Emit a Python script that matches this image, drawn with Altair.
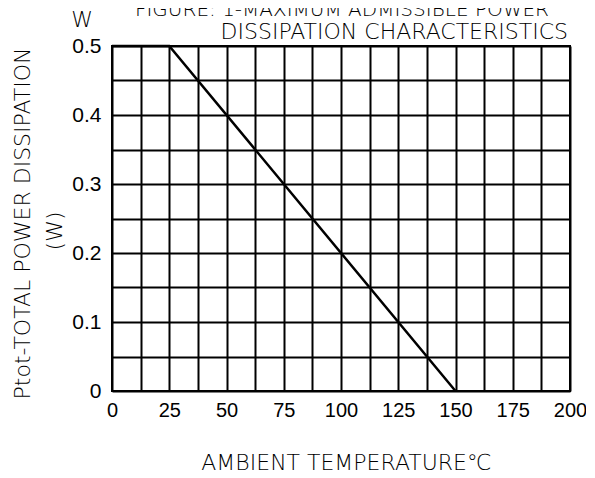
import altair as alt
import pandas as pd

temp = [0, 25, 150]
power = [0.5, 0.5, 0.0]
x_grid = [0, 12.5, 25, 37.5, 50, 62.5, 75, 87.5, 100, 112.5, 125, 137.5, 150, 162.5, 175, 187.5, 200]
y_grid = [0, 0.05, 0.1, 0.15, 0.2, 0.25, 0.3, 0.35, 0.4, 0.45, 0.5]
title_lines = ["FIGURE: 1-MAXIMUM ADMISSIBLE POWER", "DISSIPATION CHARACTERISTICS"]
y_title = "Ptot-TOTAL POWER DISSIPATION"
y_unit = "(W)"
unit_top = "W"
x_title = "AMBIENT TEMPERATURE\u2103"

df = pd.DataFrame({"temp": temp, "power": power})

LABEL_FONT = "Liberation Sans"
TITLE_FONT = "DejaVu Sans"
TW = 200
TS = 22

line = alt.Chart(df).mark_line(color="black", strokeWidth=2.5).encode(
    x=alt.X("temp:Q", scale=alt.Scale(domain=[0, 200], nice=False),
            axis=alt.Axis(values=x_grid, grid=True, gridColor="black", gridWidth=2, gridOpacity=1,
                          ticks=False, domain=False,
                          labelExpr="datum.value % 25 == 0 ? datum.label : ''",
                          format="~f", labelFont=LABEL_FONT, labelFontSize=20, labelColor="black",
                          labelPadding=9, labelFlush=False, labelOverlap=False,
                          title=x_title, titleFont=TITLE_FONT, titleFontSize=TS,
                          titleFontWeight=TW, titleColor="black", titleX=234, titleY=71,
                          titleAnchor="start", titleAlign="center", titleBaseline="middle")),
    y=alt.Y("power:Q", scale=alt.Scale(domain=[0, 0.5], nice=False),
            axis=alt.Axis(values=y_grid, grid=True, gridColor="black", gridWidth=2, gridOpacity=1,
                          ticks=False, domain=False,
                          labelExpr="round(datum.value * 100) % 10 == 0 ? datum.label : ''",
                          format=".2~f", labelFont=LABEL_FONT, labelFontSize=21, labelColor="black",
                          labelPadding=11, labelFlush=False, labelOverlap=False,
                          title=y_title, titleFont=TITLE_FONT,
                          titleFontSize=TS, titleFontWeight=TW, titleColor="black",
                          titleAngle=270, titleX=-90, titleY=177, titleAlign="center",
                          titleBaseline="middle", titleAnchor="start")),
)

def txt(s, x, y, align="center", angle=0, size=TS):
    kw = dict(align=align, baseline="middle", font=TITLE_FONT, fontSize=size,
              fontWeight=TW, color="black")
    if angle:
        kw["angle"] = angle
    return alt.Chart(pd.DataFrame({"t": [s]})).mark_text(**kw).encode(
        text="t:N", x=alt.value(x), y=alt.value(y))

t1 = txt(title_lines[0], 437, -36, align="right", size=20)
t2 = txt(title_lines[1], 456, -14, align="right")
tw = txt(unit_top, -30, -26)
tu = txt(y_unit, -57, 185, angle=270)

chart = alt.layer(line, t1, t2, tw, tu).properties(
    width=458, height=345,
    autosize=alt.AutoSizeParams(type="none"),
    padding={"left": 104, "top": 38, "right": 16, "bottom": 88},
    background="white",
).configure_view(stroke="black", strokeWidth=2)

chart.save("out.html", embed_options={"renderer": "svg", "actions": False})
